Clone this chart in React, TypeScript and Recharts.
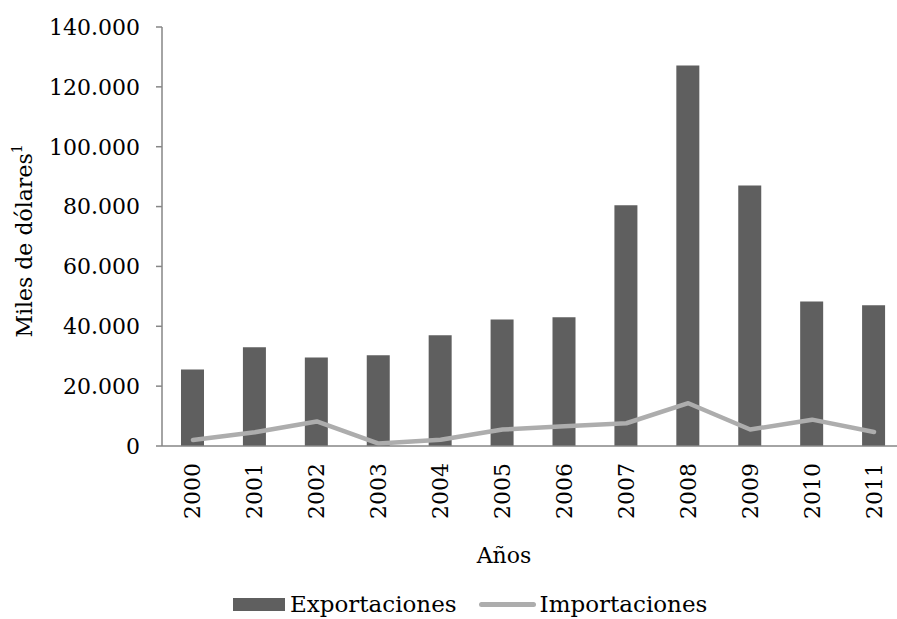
import React from 'react';
import { ComposedChart, Bar, Line, XAxis, YAxis, Legend } from 'recharts';

const years = ['2000', '2001', '2002', '2003', '2004', '2005', '2006', '2007', '2008', '2009', '2010', '2011'];
const exportaciones = [25600, 33000, 29600, 30300, 37000, 42300, 43000, 80400, 127100, 87000, 48300, 47000];
const importaciones = [2000, 4600, 8200, 800, 2100, 5500, 6600, 7600, 14300, 5500, 8800, 4700];
const yTicks = [0, 20000, 40000, 60000, 80000, 100000, 120000, 140000];

const FONT = '"DejaVu Serif", serif';
const BAR_COLOR = '#5f5f5f';
const LINE_COLOR = '#adadad';
const AXIS_COLOR = '#868686';

const data = years.map((year, i) => ({
  year,
  Exportaciones: exportaciones[i],
  Importaciones: importaciones[i],
}));

const fmt = (v: number) => String(v).replace(/\B(?=(\d{3})+(?!\d))/g, '.');

const XTick = ({ x, y, payload }: any) => (
  <text
    x={x}
    y={y}
    transform={`rotate(-90, ${x}, ${y})`}
    textAnchor="end"
    dominantBaseline="central"
    fontFamily={FONT}
    fontSize={22}
    fill="#000"
  >
    {payload.value}
  </text>
);

const YLabel = () => (
  <text
    x={32}
    y={241}
    transform="rotate(-90, 32, 241)"
    textAnchor="middle"
    fontFamily={FONT}
    fontSize={22}
    fill="#000"
  >
    Miles de dólares
    <tspan fontSize={14} dy={-10}>1</tspan>
  </text>
);

const XLabel = () => (
  <text x={504} y={563} textAnchor="middle" fontFamily={FONT} fontSize={22} fill="#000">
    Años
  </text>
);

const LegendContent = () => (
  <div
    style={{
      display: 'flex',
      alignItems: 'center',
      height: 30,
      paddingLeft: 233,
      fontFamily: FONT,
      fontSize: 23,
      color: '#000',
      whiteSpace: 'nowrap',
    }}
  >
    <span style={{ display: 'inline-block', width: 52, height: 13, background: BAR_COLOR, marginRight: 5 }} />
    <span>Exportaciones</span>
    <span
      style={{
        display: 'inline-block',
        width: 57,
        height: 5,
        borderRadius: 3,
        background: LINE_COLOR,
        marginLeft: 22,
        marginRight: 4,
      }}
    />
    <span>Importaciones</span>
  </div>
);

const App = () => {
  return (
    <div style={{ position: 'absolute', left: 0, top: 0, width: 897, height: 619, overflow: 'hidden', background: '#fff' }}>
      <ComposedChart
        width={905}
        height={619}
        data={data}
        margin={{ top: 27, right: 0, left: 0, bottom: 0 }}
      >
        <XAxis
          dataKey="year"
          interval={0}
          height={143}
          tickLine={false}
          tickSize={0}
          tickMargin={17}
          axisLine={{ stroke: AXIS_COLOR, strokeWidth: 1.5 }}
          tick={<XTick />}
          label={<XLabel />}
        />
        <YAxis
          domain={[0, 140000]}
          ticks={yTicks}
          width={162}
          tickSize={6}
          tickMargin={16}
          tickFormatter={fmt}
          axisLine={{ stroke: AXIS_COLOR, strokeWidth: 1.5 }}
          tickLine={{ stroke: AXIS_COLOR, strokeWidth: 1.5 }}
          tick={{ fontFamily: FONT, fontSize: 22, fill: '#000' }}
          label={<YLabel />}
        />
        <Legend
          verticalAlign="bottom"
          height={30}
          wrapperStyle={{ left: 0, width: 897 }}
          content={<LegendContent />}
        />
        <Bar dataKey="Exportaciones" fill={BAR_COLOR} barSize={23} isAnimationActive={false} />
        <Line
          type="linear"
          dataKey="Importaciones"
          stroke={LINE_COLOR}
          strokeWidth={4.5}
          strokeLinecap="round"
          strokeLinejoin="round"
          dot={false}
          activeDot={false}
          isAnimationActive={false}
        />
      </ComposedChart>
    </div>
  );
};

export default App;
